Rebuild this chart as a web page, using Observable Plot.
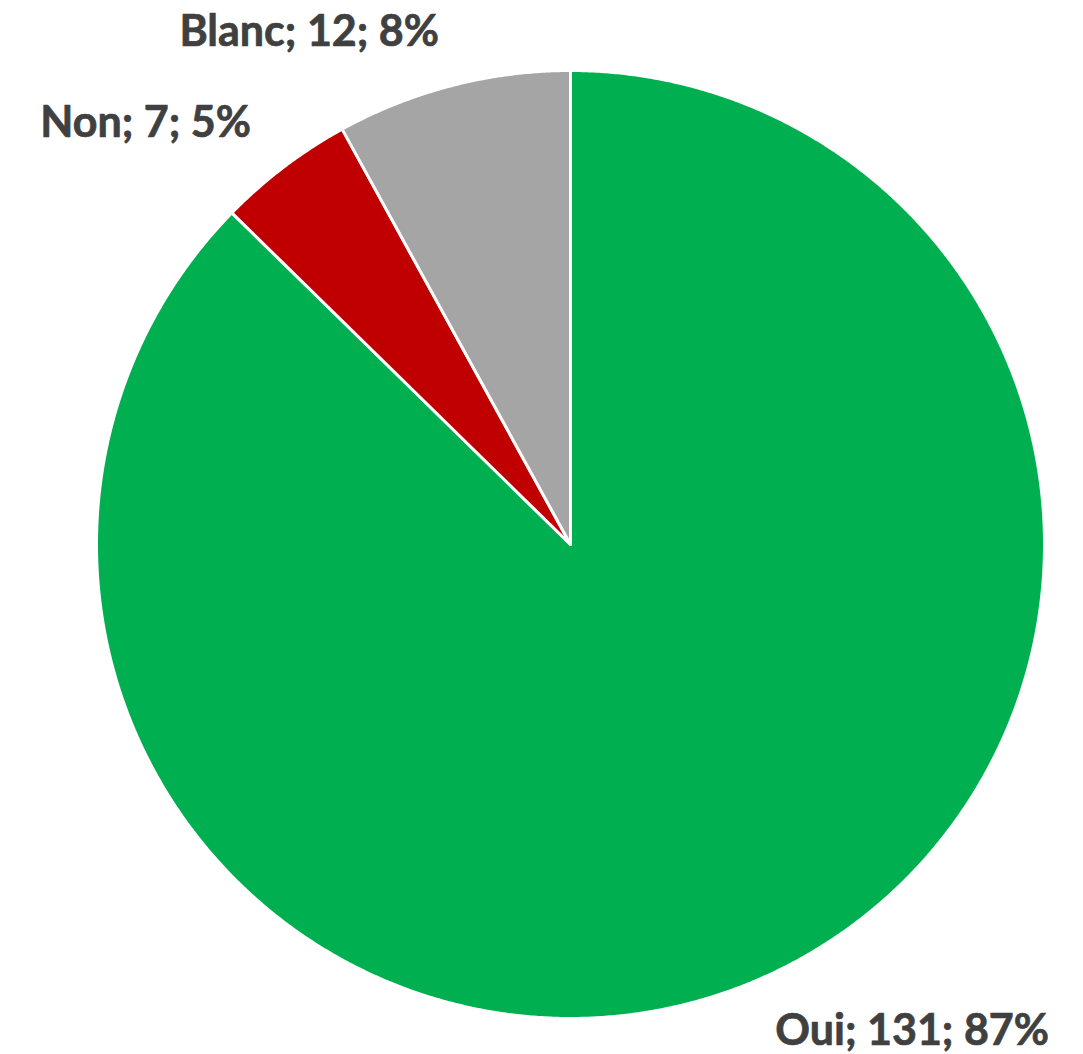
<!DOCTYPE html>
<html>
<head>
<meta charset="utf-8">
<script src="https://cdn.jsdelivr.net/npm/d3@7"></script>
<script src="https://cdn.jsdelivr.net/npm/@observablehq/plot@0.6"></script>
<style>
  html, body { margin: 0; padding: 0; background: #fff; }
  #chart svg { display: block; }
</style>
</head>
<body>
<div id="chart"></div>
<script>
// Data
const categories = ["Oui", "Non", "Blanc"];
const counts = [131, 7, 12];
const colors = ["#00B050", "#C00000", "#A5A5A5"];

const total = d3.sum(counts);
const pie = d3.pie().sort(null).value(d => d.value)(
  categories.map((c, i) => ({cat: c, value: counts[i]}))
);

// Build slice outlines (polar -> cartesian in unit-radius data space)
const slicePts = [];
pie.forEach(s => {
  const n = Math.max(2, Math.ceil((s.endAngle - s.startAngle) / 0.005));
  slicePts.push({cat: s.data.cat, x: 0, y: 0});
  for (let k = 0; k <= n; k++) {
    const a = s.startAngle + (s.endAngle - s.startAngle) * k / n;
    slicePts.push({cat: s.data.cat, x: Math.sin(a), y: Math.cos(a)});
  }
  slicePts.push({cat: s.data.cat, x: 0, y: 0});
});

const labelR = 1.115;
const labels = pie.map(s => {
  const a = (s.startAngle + s.endAngle) / 2;
  const pct = Math.round(s.data.value / total * 100);
  return {
    text: `${s.data.cat}; ${s.data.value}; ${pct}%`,
    x: Math.sin(a) * labelR,
    y: Math.cos(a) * labelR,
    anchor: Math.sin(a) >= 0 ? "start" : "end"
  };
});

const textStyle = {
  x: "x", y: "y", text: "text",
  fontFamily: "Lato, 'Open Sans', sans-serif", fontWeight: "bold",
  fontSize: 43, fill: "#404040", stroke: "#404040", strokeWidth: 0.7
};

const chart = Plot.plot({
  width: 1083,
  height: 1054,
  margin: 0,
  x: {domain: [-1, 1], range: [96, 1044], axis: null},
  y: {domain: [-1, 1], range: [1018, 70], axis: null},
  color: {domain: categories, range: colors},
  style: {background: "#fff"},
  marks: [
    Plot.line(slicePts, {
      x: "x", y: "y", z: "cat",
      fill: "cat", stroke: "white", strokeWidth: 3,
      strokeLinejoin: "round", curve: "linear"
    }),
    Plot.text(labels.filter(d => d.anchor === "start"), {...textStyle, textAnchor: "start"}),
    Plot.text(labels.filter(d => d.anchor === "end"), {...textStyle, textAnchor: "end"})
  ]
});

document.getElementById("chart").appendChild(chart);
</script>
</body>
</html>
